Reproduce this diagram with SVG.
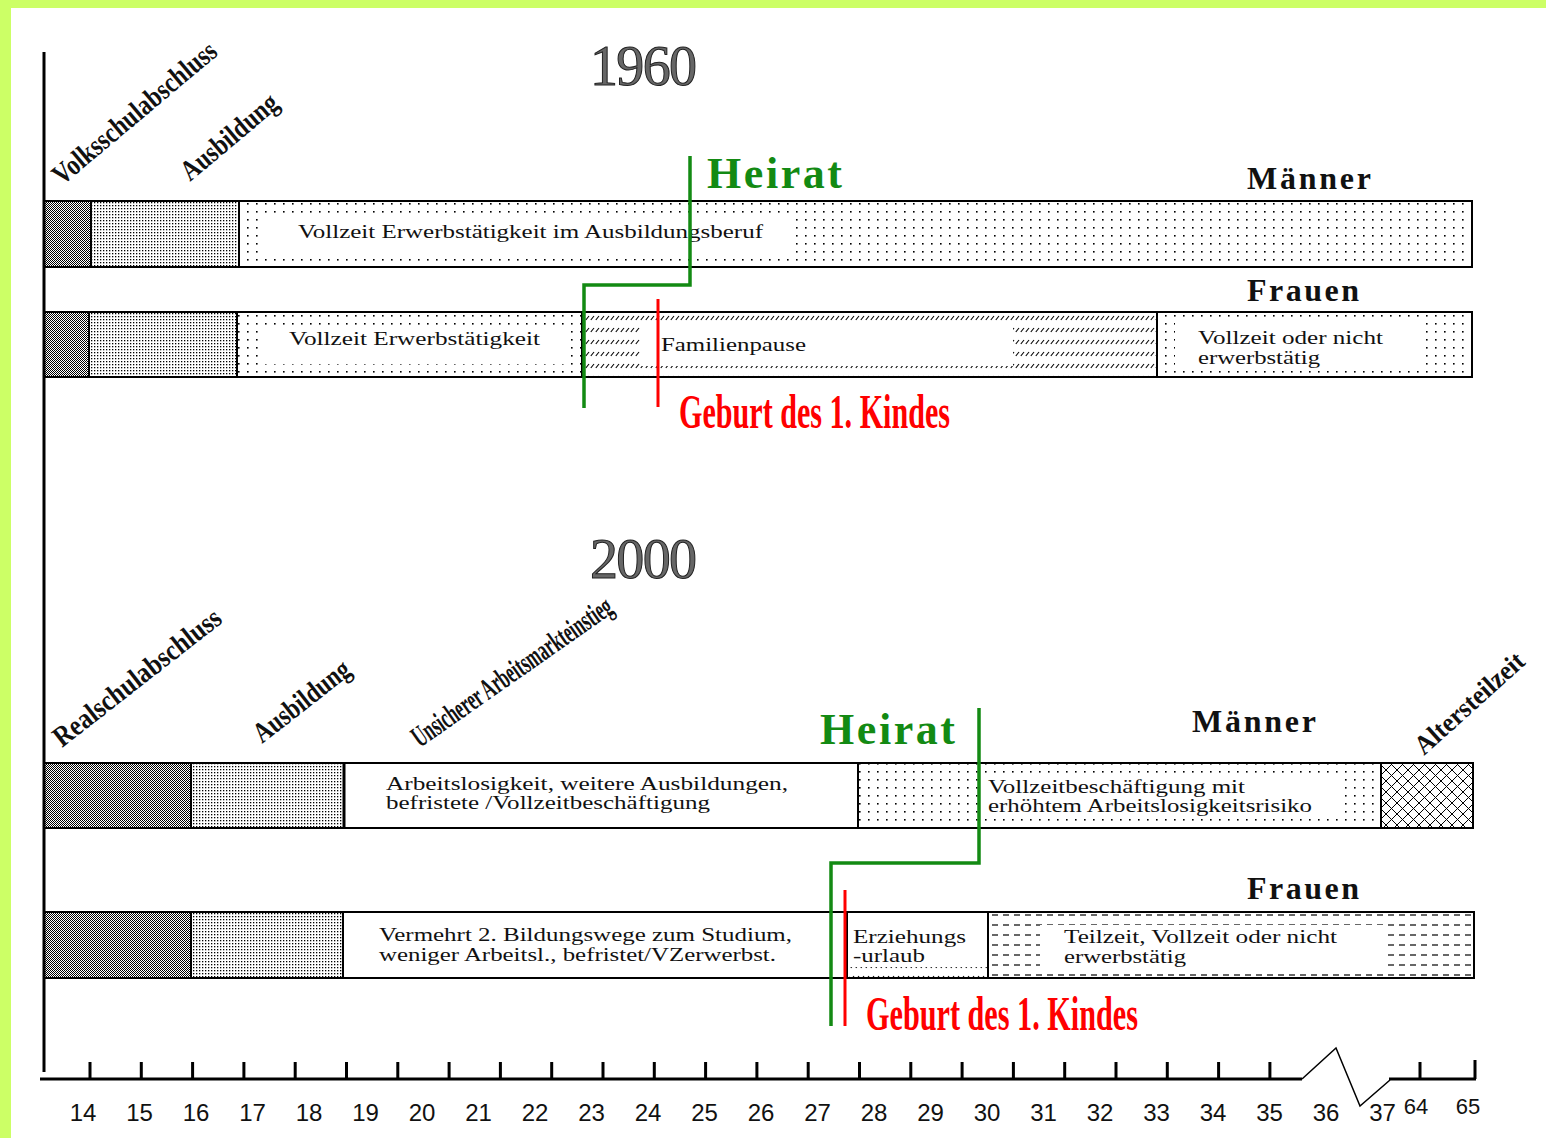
<svg xmlns="http://www.w3.org/2000/svg" width="1546" height="1138" viewBox="0 0 1546 1138">
<defs>
<pattern id="pDark" width="2" height="2" patternUnits="userSpaceOnUse"><rect width="2" height="2" fill="#fff"/><rect width="1" height="1" fill="#000"/><rect x="1" y="1" width="1" height="1" fill="#000"/></pattern>
<pattern id="pLight" width="3" height="3" patternUnits="userSpaceOnUse"><rect width="3" height="3" fill="#fff"/><rect x="1" y="1" width="1.3" height="1.3" fill="#000"/></pattern>
<pattern id="pDots" width="9" height="8" patternUnits="userSpaceOnUse"><rect width="9" height="8" fill="#fff"/><rect x="4" y="3" width="1.6" height="1.6" fill="#000"/></pattern>
<pattern id="pHatch" width="5" height="12" patternUnits="userSpaceOnUse"><rect width="5" height="12" fill="#fff"/><path d="M0.8 8 L4 4" stroke="#000" stroke-width="1.1"/></pattern>
<pattern id="pDash" width="11" height="10" patternUnits="userSpaceOnUse"><rect width="11" height="10" fill="#fff"/><path d="M2 5 H8" stroke="#000" stroke-width="1.2"/></pattern>
<pattern id="pCross" width="11" height="11" patternUnits="userSpaceOnUse"><rect width="11" height="11" fill="#fff"/><path d="M0 0 L11 11 M11 0 L0 11" stroke="#000" stroke-width="1"/></pattern>
</defs>
<style>
.seg{stroke:#000;stroke-width:2}
.inner{fill:#fff;stroke:none}
.frame{fill:none;stroke:#000;stroke-width:2}
.t{font-family:"Liberation Serif",serif;font-size:19px;fill:#111}
.t2{font-family:"Liberation Serif",serif;font-size:18px;fill:#111}
.rot{font-family:"Liberation Serif",serif;font-weight:bold;font-size:29px;fill:#111}
.sex{font-family:"Liberation Serif",serif;font-weight:bold;font-size:32px;fill:#111}
.year{font-family:"Liberation Serif",serif;font-size:56px;fill:#666;stroke:#222;stroke-width:1}
.heirat{font-family:"Liberation Serif",serif;font-weight:bold;font-size:44px;fill:#138a13}
.geburt{font-family:"Liberation Serif",serif;font-weight:bold;font-size:48px;fill:#ff0000}
.num{font-family:"Liberation Sans",sans-serif;font-size:24px;fill:#111;text-anchor:middle}
.green{stroke:#138a13;stroke-width:3.5;fill:none}
.red{stroke:#ff0000;stroke-width:3;fill:none}
.axis{stroke:#000;stroke-width:3;fill:none}
.zig{stroke:#000;stroke-width:1.5;fill:none}
</style>
<rect width="1546" height="1138" fill="#ccff66"/>
<rect x="11" y="8" width="1535" height="1130" fill="#fff"/>

<g id="titles">
<text class="year" x="590" y="85" textLength="107">1960</text>
<text class="year" x="590" y="578" textLength="107">2000</text>
</g>

<g id="labels-1960">
<text class="rot" transform="translate(62,186) rotate(-40)" textLength="205" lengthAdjust="spacingAndGlyphs">Volksschulabschluss</text>
<text class="rot" transform="translate(190,182) rotate(-40)" textLength="118" lengthAdjust="spacingAndGlyphs">Ausbildung</text>
<text class="sex" x="1247" y="189" textLength="124">Männer</text>
<text class="sex" x="1247" y="301" textLength="112">Frauen</text>
</g>

<g id="bar-1960-maenner">
<rect class="seg" x="44" y="201" width="47" height="66" fill="url(#pDark)"/>
<rect class="seg" x="91" y="201" width="148" height="66" fill="url(#pLight)"/>
<rect class="seg" x="239" y="201" width="1233" height="66" fill="url(#pDots)"/>
<rect class="inner" x="262" y="216" width="533" height="40"/>
<text class="t" x="298" y="238" textLength="465" lengthAdjust="spacingAndGlyphs">Vollzeit Erwerbstätigkeit im Ausbildungsberuf</text>
<rect class="frame" x="44" y="201" width="1428" height="66"/>
</g>

<g id="bar-1960-frauen">
<rect class="seg" x="44" y="312" width="45" height="65" fill="url(#pDark)"/>
<rect class="seg" x="89" y="312" width="148" height="65" fill="url(#pLight)"/>
<rect class="seg" x="237" y="312" width="345" height="65" fill="url(#pDots)"/>
<rect class="inner" x="258" y="326" width="310" height="38"/>
<text class="t" x="289" y="345" textLength="251" lengthAdjust="spacingAndGlyphs">Vollzeit Erwerbstätigkeit</text>
<rect class="seg" x="582" y="312" width="575" height="65" fill="url(#pHatch)"/>
<rect class="inner" x="640" y="326" width="373" height="40"/>
<text class="t" x="661" y="351" textLength="145" lengthAdjust="spacingAndGlyphs">Familienpause</text>
<rect class="seg" x="1157" y="312" width="315" height="65" fill="url(#pDots)"/>
<rect class="inner" x="1175" y="323" width="250" height="47"/>
<text class="t2" x="1198" y="344" textLength="185" lengthAdjust="spacingAndGlyphs">Vollzeit oder nicht</text>
<text class="t2" x="1198" y="364" textLength="122" lengthAdjust="spacingAndGlyphs">erwerbstätig</text>
<rect class="frame" x="44" y="312" width="1428" height="65"/>
</g>

<g id="labels-2000">
<text class="rot" transform="translate(62,748) rotate(-38)" textLength="205" lengthAdjust="spacingAndGlyphs">Realschulabschluss</text>
<text class="rot" transform="translate(262,744) rotate(-38)" textLength="115" lengthAdjust="spacingAndGlyphs">Ausbildung</text>
<text class="rot" style="font-size:30px" transform="translate(420,748) rotate(-35)" textLength="238" lengthAdjust="spacingAndGlyphs">Unsicherer Arbeitsmarkteinstieg</text>
<text class="rot" style="font-size:27px" transform="translate(1424,756) rotate(-42)" textLength="138" lengthAdjust="spacingAndGlyphs">Altersteilzeit</text>
<text class="sex" x="1192" y="732" textLength="124">Männer</text>
<text class="sex" x="1247" y="899" textLength="112">Frauen</text>
</g>

<g id="bar-2000-maenner">
<rect class="seg" x="44" y="763" width="147" height="65" fill="url(#pDark)"/>
<rect class="seg" x="191" y="763" width="153" height="65" fill="url(#pLight)"/>
<rect class="seg" x="344" y="763" width="514" height="65" fill="#fff"/>
<text class="t2" x="386" y="790" textLength="402" lengthAdjust="spacingAndGlyphs">Arbeitslosigkeit, weitere  Ausbildungen,</text>
<text class="t2" x="386" y="809" textLength="324" lengthAdjust="spacingAndGlyphs">befristete /Vollzeitbeschäftigung</text>
<rect class="seg" x="858" y="763" width="523" height="65" fill="url(#pDots)"/>
<rect class="inner" x="980" y="776" width="360" height="42"/>
<text class="t2" x="988" y="793" textLength="257" lengthAdjust="spacingAndGlyphs">Vollzeitbeschäftigung mit</text>
<text class="t2" x="988" y="812" textLength="324" lengthAdjust="spacingAndGlyphs">erhöhtem Arbeitslosigkeitsrisiko</text>
<rect class="seg" x="1381" y="763" width="92" height="65" fill="url(#pCross)"/>
<line x1="344" y1="763" x2="344" y2="828" stroke="#000" stroke-width="3"/>
<rect class="frame" x="44" y="763" width="1429" height="65"/>
</g>

<g id="bar-2000-frauen">
<rect class="seg" x="44" y="912" width="147" height="66" fill="url(#pDark)"/>
<rect class="seg" x="191" y="912" width="152" height="66" fill="url(#pLight)"/>
<rect class="seg" x="343" y="912" width="504" height="66" fill="#fff"/>
<text class="t2" x="379" y="941" textLength="413" lengthAdjust="spacingAndGlyphs">Vermehrt 2. Bildungswege zum Studium,</text>
<text class="t2" x="379" y="961" textLength="397" lengthAdjust="spacingAndGlyphs">weniger Arbeitsl., befristet/VZerwerbst.</text>
<rect class="seg" x="847" y="912" width="141" height="66" fill="#fff"/>
<rect x="849" y="967" width="138" height="10" fill="url(#pHatch)"/>
<text class="t2" x="853" y="943" textLength="113" lengthAdjust="spacingAndGlyphs">Erziehungs</text>
<text class="t2" x="853" y="962" textLength="72" lengthAdjust="spacingAndGlyphs">-urlaub</text>
<rect class="seg" x="988" y="912" width="486" height="66" fill="url(#pDash)"/>
<rect class="inner" x="1040" y="925" width="343" height="41"/>
<text class="t2" x="1064" y="943" textLength="273" lengthAdjust="spacingAndGlyphs">Teilzeit, Vollzeit oder nicht</text>
<text class="t2" x="1064" y="963" textLength="122" lengthAdjust="spacingAndGlyphs">erwerbstätig</text>
<rect class="frame" x="44" y="912" width="1430" height="66"/>
</g>

<g id="axis">
<path class="axis" d="M44 52 V1072"/>
<path class="axis" d="M40 1079 H1302"/>
<path class="zig" d="M1302 1079 L1336 1048 L1360 1106 L1390 1080"/>
<path class="axis" d="M1389 1079 H1476"/>
<path class="axis" d="M90 1079V1062M141.3 1079V1062M192.6 1079V1062M243.9 1079V1062M295.2 1079V1062M346.5 1079V1062M397.8 1079V1062M449.1 1079V1062M500.4 1079V1062M551.7 1079V1062M603 1079V1062M654.3 1079V1062M705.6 1079V1062M756.9 1079V1062M808.2 1079V1062M859.5 1079V1062M910.8 1079V1062M962.1 1079V1062M1013.4 1079V1062M1064.7 1079V1062M1116 1079V1062M1167.3 1079V1062M1218.6 1079V1062M1269.9 1079V1062M1420 1079V1062M1475 1079V1060"/>
<text class="num" x="83" y="1121">14</text>
<text class="num" x="139.5" y="1121">15</text>
<text class="num" x="196" y="1121">16</text>
<text class="num" x="252.5" y="1121">17</text>
<text class="num" x="309" y="1121">18</text>
<text class="num" x="365.5" y="1121">19</text>
<text class="num" x="422" y="1121">20</text>
<text class="num" x="478.5" y="1121">21</text>
<text class="num" x="535" y="1121">22</text>
<text class="num" x="591.5" y="1121">23</text>
<text class="num" x="648" y="1121">24</text>
<text class="num" x="704.5" y="1121">25</text>
<text class="num" x="761" y="1121">26</text>
<text class="num" x="817.5" y="1121">27</text>
<text class="num" x="874" y="1121">28</text>
<text class="num" x="930.5" y="1121">29</text>
<text class="num" x="987" y="1121">30</text>
<text class="num" x="1043.5" y="1121">31</text>
<text class="num" x="1100" y="1121">32</text>
<text class="num" x="1156.5" y="1121">33</text>
<text class="num" x="1213" y="1121">34</text>
<text class="num" x="1269.5" y="1121">35</text>
<text class="num" x="1326" y="1121">36</text>
<text class="num" x="1382.5" y="1121">37</text>
<text class="num" style="font-size:22px" x="1416" y="1114">64</text>
<text class="num" style="font-size:22px" x="1468" y="1114">65</text>
</g>

<g id="connectors">
<path class="green" d="M690 156 V285 H584 V408"/>
<path class="red" d="M658 299 V407"/>
<path class="green" d="M979 708 V863 H831 V1026"/>
<path class="red" d="M845 890 V1026"/>
</g>

<g id="events">
<text class="heirat" x="707" y="188" textLength="135">Heirat</text>
<text class="geburt" x="679" y="428" textLength="271" lengthAdjust="spacingAndGlyphs">Geburt des 1. Kindes</text>
<text class="heirat" x="820" y="744" textLength="135">Heirat</text>
<text class="geburt" x="866" y="1030" textLength="272" lengthAdjust="spacingAndGlyphs">Geburt des 1. Kindes</text>
</g>
</svg>
